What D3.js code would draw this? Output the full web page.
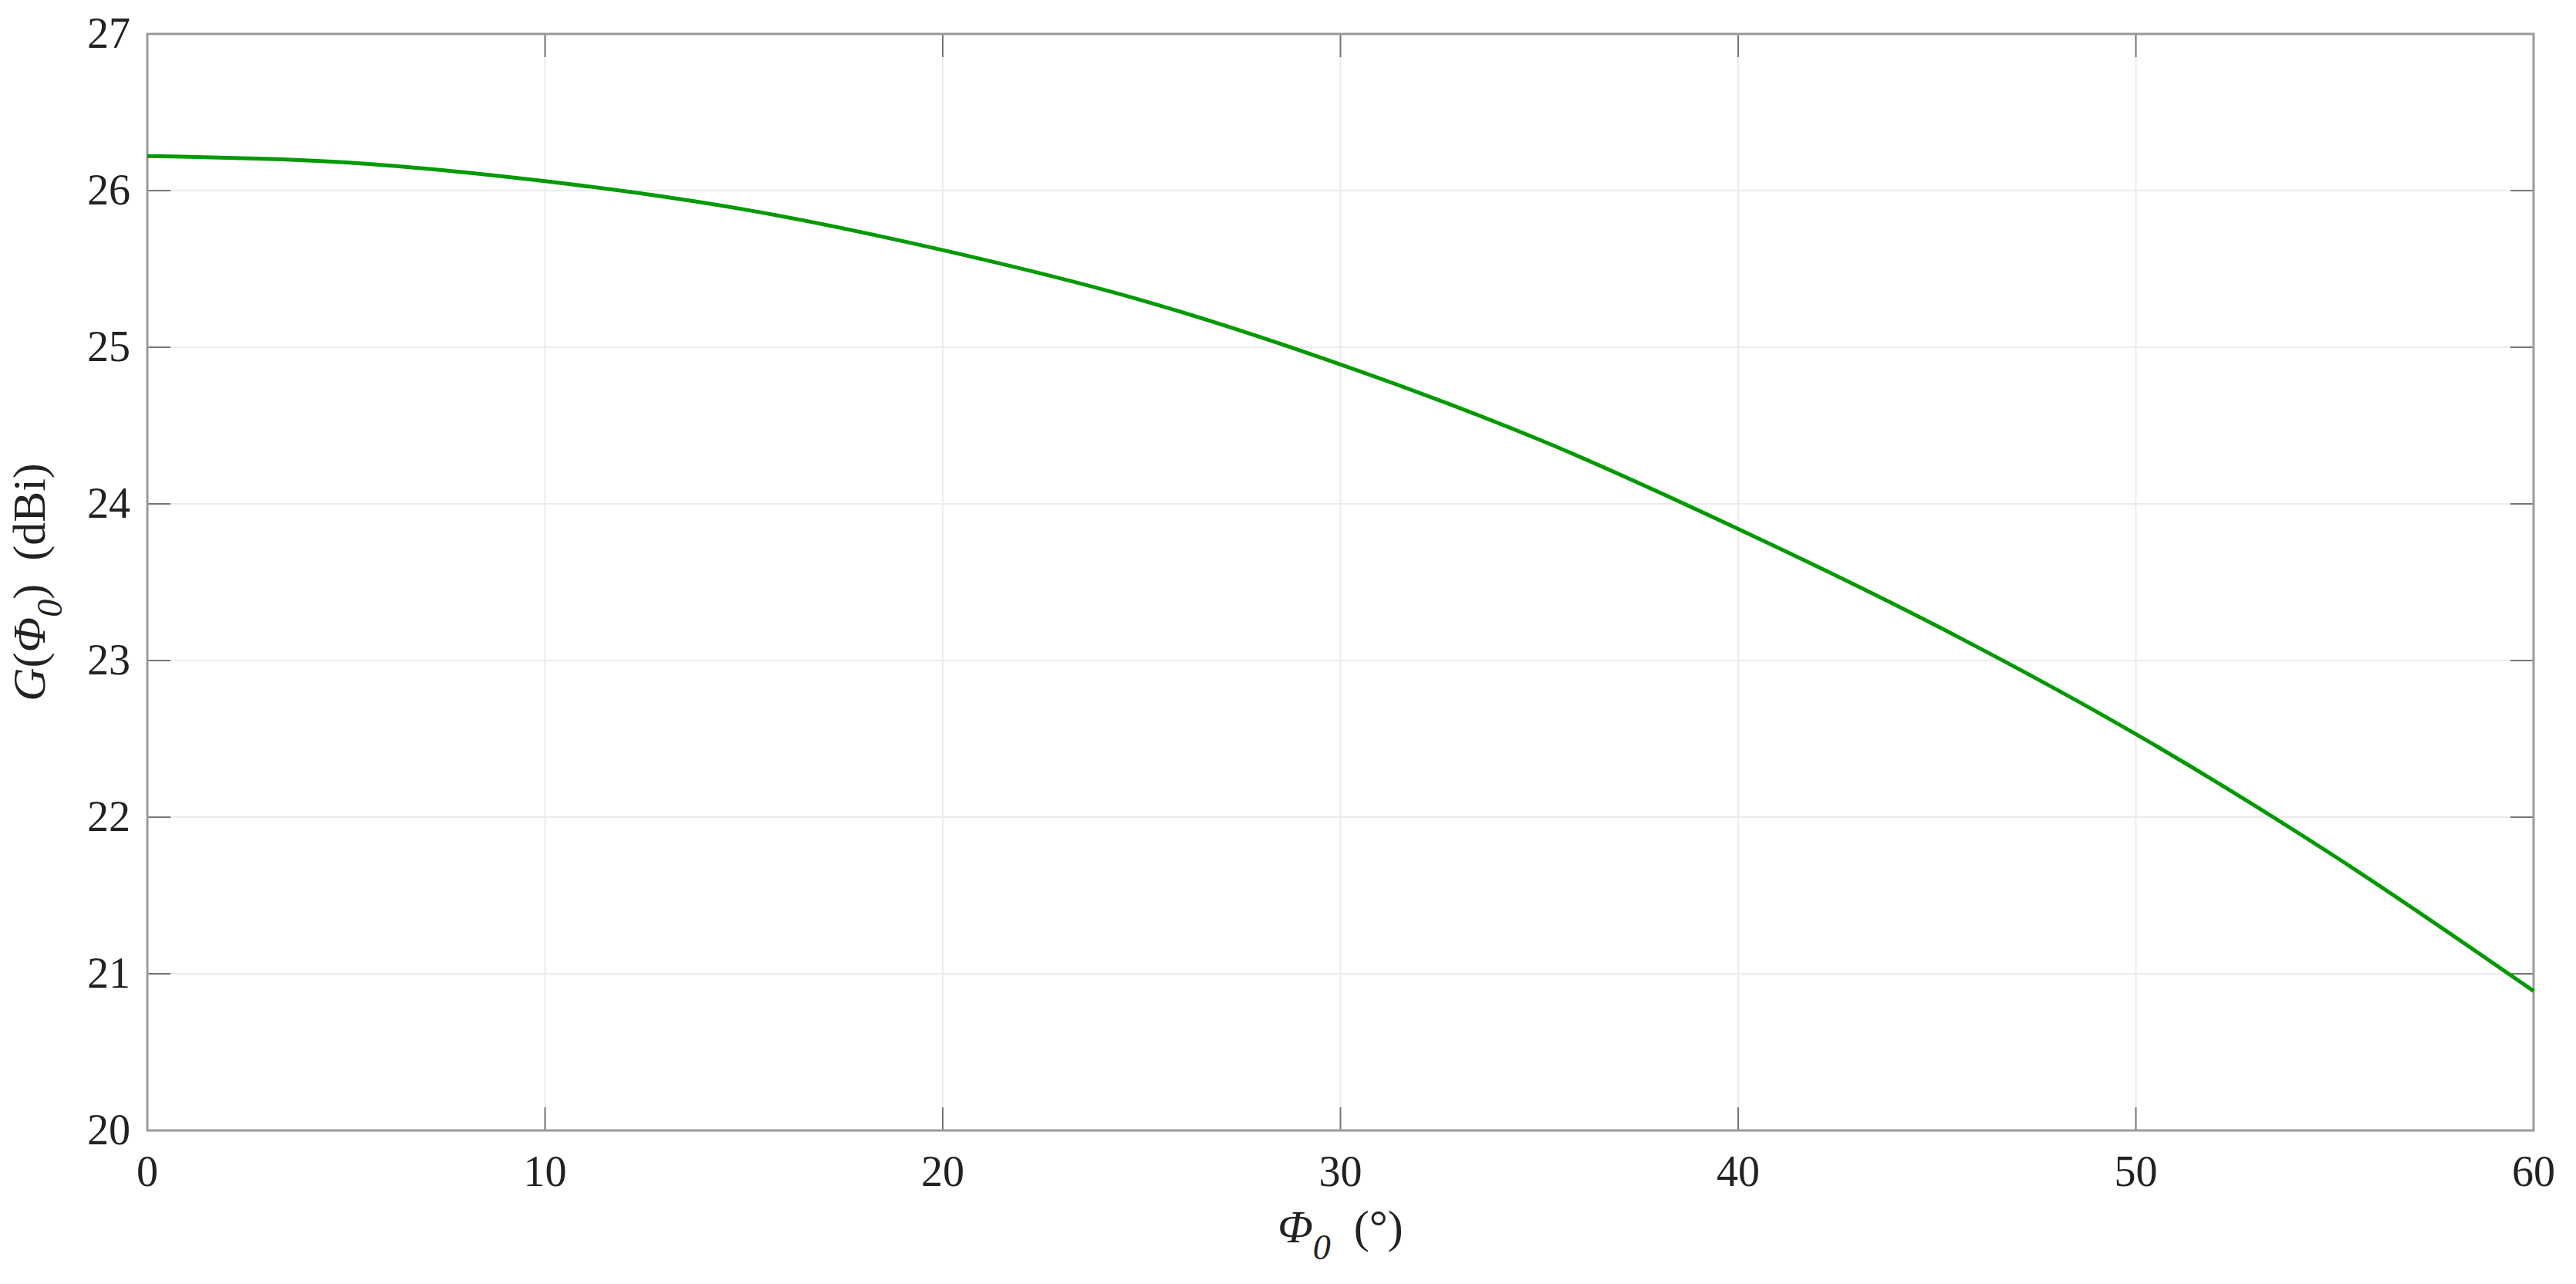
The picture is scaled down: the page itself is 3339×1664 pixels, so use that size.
<!DOCTYPE html>
<html>
<head>
<meta charset="utf-8">
<script src="https://cdn.jsdelivr.net/npm/d3@7"></script>
<style>
  body { margin: 0; background: #fff; }
  text { font-family: "Liberation Serif", "DejaVu Serif", serif; fill: #222; }
</style>
</head>
<body>
<svg id="chart"></svg>
<script>
// gain vs scan angle
const phi = [0, 5, 10, 15, 20, 25, 30, 35, 40, 45, 50, 55, 60];
const gain = [26.22, 26.18, 26.06, 25.88, 25.62, 25.30, 24.89, 24.41, 23.84, 23.22, 22.53, 21.75, 20.89];
const xTicks = [0, 10, 20, 30, 40, 50, 60];
const yTicks = [20, 21, 22, 23, 24, 25, 26, 27];

const width = 3339, height = 1664;
const margin = { top: 44, right: 55, bottom: 199, left: 191 };
const w = width - margin.left - margin.right;
const h = height - margin.top - margin.bottom;

const svg = d3.select('#chart').attr('width', width).attr('height', height);
const g = svg.append('g').attr('transform', `translate(${margin.left},${margin.top})`);

const x = d3.scaleLinear().domain([0, 60]).range([0, w]);
const y = d3.scaleLinear().domain([20, 27]).range([h, 0]);

// grid
g.selectAll('.gx').data(xTicks).enter().append('line')
  .attr('x1', d => x(d)).attr('x2', d => x(d)).attr('y1', 0).attr('y2', h)
  .attr('stroke', '#ebebeb').attr('stroke-width', 2);
g.selectAll('.gy').data(yTicks).enter().append('line')
  .attr('y1', d => y(d)).attr('y2', d => y(d)).attr('x1', 0).attr('x2', w)
  .attr('stroke', '#ebebeb').attr('stroke-width', 2);

// inward ticks on all four sides
const tk = 30;
g.selectAll('.tl').data(yTicks).enter().append('line')
  .attr('x1', 0).attr('x2', tk).attr('y1', d => y(d)).attr('y2', d => y(d))
  .attr('stroke', '#777').attr('stroke-width', 2);
g.selectAll('.tr').data(yTicks).enter().append('line')
  .attr('x1', w - tk).attr('x2', w).attr('y1', d => y(d)).attr('y2', d => y(d))
  .attr('stroke', '#777').attr('stroke-width', 2);
g.selectAll('.tb').data(xTicks).enter().append('line')
  .attr('x1', d => x(d)).attr('x2', d => x(d)).attr('y1', h).attr('y2', h - tk)
  .attr('stroke', '#777').attr('stroke-width', 2);
g.selectAll('.tt').data(xTicks).enter().append('line')
  .attr('x1', d => x(d)).attr('x2', d => x(d)).attr('y1', 0).attr('y2', tk)
  .attr('stroke', '#777').attr('stroke-width', 2);

// box
g.append('rect').attr('width', w).attr('height', h)
  .attr('fill', 'none').attr('stroke', '#9a9a9a').attr('stroke-width', 3);

// tick labels
g.selectAll('.xl').data(xTicks).enter().append('text')
  .attr('x', d => x(d)).attr('y', h + 72).attr('text-anchor', 'middle')
  .attr('font-size', 56).text(d => d);
g.selectAll('.yl').data(yTicks).enter().append('text')
  .attr('x', -22).attr('y', d => y(d) + 18).attr('text-anchor', 'end')
  .attr('font-size', 56).text(d => d);

// curve
const line = d3.line().x((d, i) => x(phi[i])).y(d => y(d)).curve(d3.curveMonotoneX);
g.append('path').datum(gain).attr('d', line)
  .attr('fill', 'none').attr('stroke', '#009a00').attr('stroke-width', 5);

// axis labels
const xl = svg.append('text').attr('x', margin.left + w / 2).attr('y', 1610)
  .attr('text-anchor', 'middle').attr('font-size', 60);
xl.append('tspan').attr('font-style', 'italic').text('Φ');
xl.append('tspan').attr('font-style', 'italic').attr('font-size', 46).attr('dy', 22).text('0');
xl.append('tspan').attr('dy', -22).text('\u2002(°)');

const yl = svg.append('text')
  .attr('transform', `translate(58,${margin.top + h / 2}) rotate(-90)`)
  .attr('text-anchor', 'middle').attr('font-size', 60);
yl.append('tspan').attr('font-style', 'italic').text('G');
yl.append('tspan').text('(');
yl.append('tspan').attr('font-style', 'italic').text('Φ');
yl.append('tspan').attr('font-style', 'italic').attr('font-size', 46).attr('dy', 22).text('0');
yl.append('tspan').attr('dy', -22).text(')\u2002(dBi)');
</script>
</body>
</html>
